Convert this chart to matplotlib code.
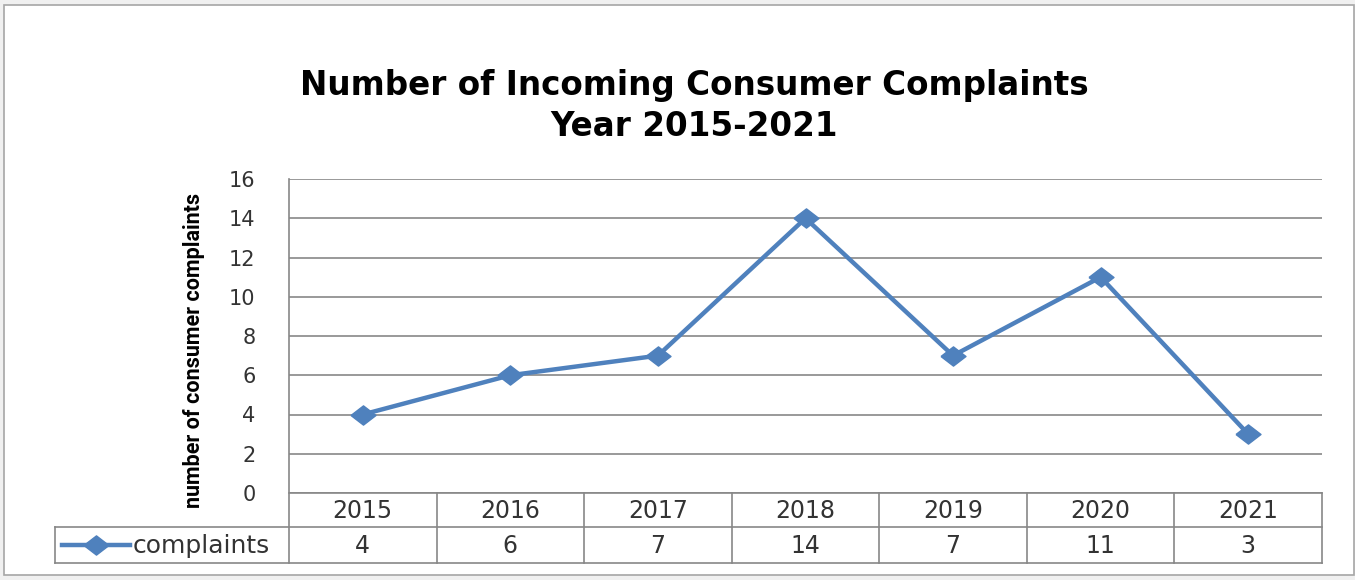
import matplotlib
matplotlib.use("Agg")
import matplotlib.pyplot as plt
import matplotlib.transforms as mtransforms
from matplotlib.lines import Line2D
from matplotlib.patches import Rectangle

years = ["2015", "2016", "2017", "2018", "2019", "2020", "2021"]
complaints = [4, 6, 7, 14, 7, 11, 3]
series_name = "complaints"
y_ticks = [0, 2, 4, 6, 8, 10, 12, 14, 16]

W, H = 1355, 580
BLUE = "#4F81BD"
GRID = "#878787"
TXT = "#333333"


def fx(x):
    return x / W


def fy(y):
    return 1 - y / H


fig = plt.figure(figsize=(W / 100, H / 100), dpi=100, facecolor="#f0f0f0")

# white chart frame, kept behind the axes
fig.add_artist(Rectangle((fx(4), fy(575)), fx(1354) - fx(4), fy(5) - fy(575),
                         transform=fig.transFigure, facecolor="white",
                         edgecolor="#a6a6a6", linewidth=1.2, zorder=-5))

left, right, top, bottom = 289, 1322, 179, 493
ax = fig.add_axes([fx(left), fy(bottom), fx(right) - fx(left), fy(top) - fy(bottom)])
ax.set_facecolor("none")

x = list(range(len(years)))
ax.set_xlim(-0.5, len(years) - 0.5)
ax.set_ylim(0, 16)
ax.set_yticks(y_ticks)
ax.yaxis.grid(True, color=GRID, linewidth=1.2)
ax.set_axisbelow(True)
for s in ["top", "right", "bottom", "left"]:
    ax.spines[s].set_visible(False)
ax.tick_params(axis="y", length=0, pad=24, labelsize=15, labelcolor=TXT)
ax.tick_params(axis="x", length=0, labelbottom=False)

diamond = [(-1.3, 0), (0, 1), (1.3, 0), (0, -1), (-1.3, 0)]
ax.plot(x, complaints, color=BLUE, linewidth=3.2, marker=diamond,
        markersize=18, markerfacecolor=BLUE, markeredgecolor=BLUE, zorder=3,
        clip_on=False)

# vertical axis title, placed by hand like the spreadsheet layout
fig.text(fx(194), fy(350), "number of consumer complaints", rotation=90,
         ha="center", va="center", fontweight="bold", fontsize=15.5,
         family=["Roboto", "DejaVu Sans"], color="black")

# data table under the plot
tr = mtransforms.blended_transform_factory(ax.transData, fig.transFigure)
row1, row2, row3 = 493, 527, 563
lw = 1.2


def hline(x0, x1, y):
    fig.add_artist(Line2D([fx(x0), fx(x1)], [fy(y), fy(y)], transform=fig.transFigure,
                          color=GRID, linewidth=lw))


def vline(x0, y0, y1):
    fig.add_artist(Line2D([fx(x0), fx(x0)], [fy(y0), fy(y1)], transform=fig.transFigure,
                          color=GRID, linewidth=lw))


hline(left, right, row1)
hline(55, right, row2)
hline(55, right, row3)
vline(left, top, row3)
vline(55, row2, row3)
for i in range(1, len(years) + 1):
    fig.add_artist(Line2D([i - 0.5, i - 0.5], [fy(row1), fy(row3)], transform=tr,
                          color=GRID, linewidth=lw))

for i, (yr, v) in enumerate(zip(years, complaints)):
    fig.text(i, fy((row1 + row2) / 2 + 1), yr, transform=tr, ha="center", va="center",
             fontsize=17, color=TXT)
    fig.text(i, fy((row2 + row3) / 2 + 1), str(v), transform=tr, ha="center", va="center",
             fontsize=17, color=TXT)

# legend key inside the table
fig.add_artist(Line2D([fx(62), fx(130)], [fy(545), fy(545)], transform=fig.transFigure,
                      color=BLUE, linewidth=3.2))
fig.add_artist(Line2D([fx(96)], [fy(545)], transform=fig.transFigure, color=BLUE,
                      marker=diamond, markersize=18, markerfacecolor=BLUE,
                      markeredgecolor=BLUE, linestyle="none"))
fig.text(fx(133), fy(546), series_name, ha="left", va="center", fontsize=18, color=TXT)

fig.text(fx(694), fy(86), "Number of Incoming Consumer Complaints", ha="center",
         va="center", fontsize=23.5, fontweight="bold", color="black")
fig.text(fx(694), fy(126), "Year 2015-2021", ha="center", va="center",
         fontsize=23.5, fontweight="bold", color="black")

fig.savefig("out.png", dpi=100, facecolor=fig.get_facecolor())
